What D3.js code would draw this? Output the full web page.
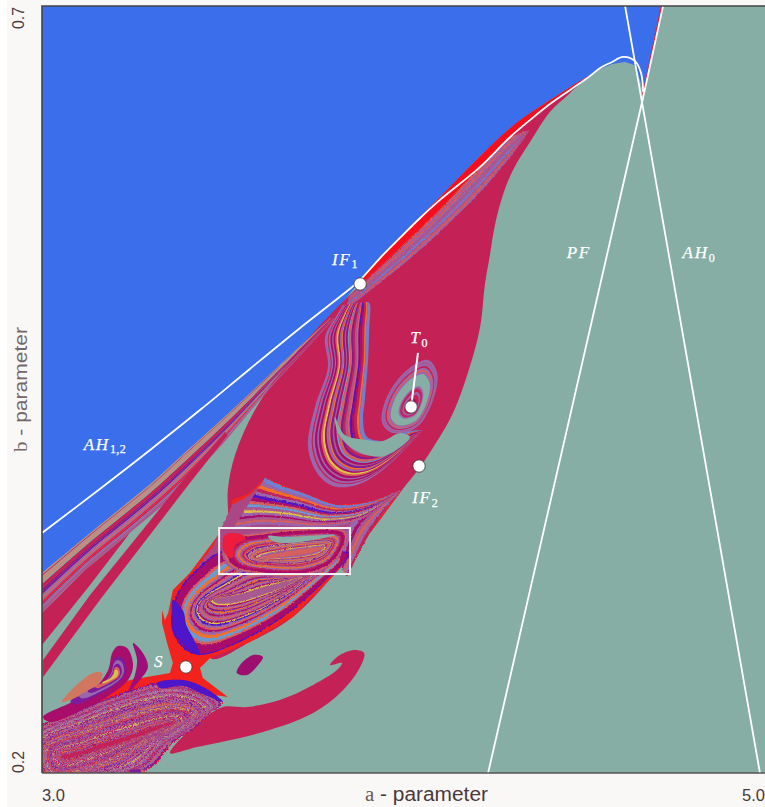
<!DOCTYPE html>
<html><head><meta charset="utf-8">
<style>html,body{margin:0;padding:0;background:#fff}svg{display:block}</style>
<script src="https://cdn.jsdelivr.net/npm/d3@7"></script></head><body>
<svg id="c" width="765" height="807"></svg>
<script>
// ---------- axis content
const aDomain=[3,5], bDomain=[0.2,0.7];
const aTicks=[[3,"3.0"],[5,"5.0"]];
const bTicks=[[0.7,"0.7"],[0.2,"0.2"]];
// ---------- bifurcation curves (a,b)
const curveAH12=[[3.000,.3565],[3.160,.3851],[3.299,.4106],[3.437,.4366],[3.575,.4634],[3.714,.4901],[3.844,.5142],[3.880,.5214],[3.935,.5357],[3.990,.5488],[4.046,.5618],[4.101,.5736],[4.212,.5951],[4.295,.6146],[4.350,.6257],[4.405,.6361],[4.461,.6453],[4.516,.6544],[4.544,.6596],[4.577,.6635],[4.607,.6668],[4.640,.6642],[4.657,.6564],[4.663,.6440]];
const curvePF=[[4.234,.2],[4.6625,.64],[4.718,.7]];
const curveAH0=[[4.613,.7],[4.986,.2]];
const wedgeRed=[[4.6625,.642],[4.714,.7]];
// ---------- region outlines (a,b)
const blueEdge=[[3.000,.3304],[3.313,.3910],[3.520,.4353],[3.797,.4966],[3.880,.5207],[3.990,.5494],[4.101,.5755],[4.212,.6022],[4.295,.6205],[4.350,.6303],[4.405,.6388],[4.461,.6472],[4.516,.6550],[4.544,.6589],[4.577,.6622],[4.613,.6635],[4.638,.6615],[4.654,.6518],[4.663,.6440]];
const blueTop=[[4.718,.7],[3,.7]];
const lobe=[[4.508,.6538],[4.461,.6433],[4.405,.6309],[4.350,.6113],[4.303,.5931],[4.275,.5768],[4.253,.5573],[4.239,.5377],[4.225,.5181],[4.212,.4908],[4.178,.4608],[4.137,.4347],[4.095,.4171],[4.046,.3995],[3.996,.3845],[3.907,.3565],[3.805,.3284],[3.694,.3017],[3.575,.2854],[3.465,.2750],[3.514,.3649],[3.514,.3845],[3.534,.4073],[3.589,.4366],[3.686,.4692],[3.783,.4953],[3.880,.5181],[3.990,.5423],[4.101,.5677],[4.212,.5951],[4.295,.6146],[4.350,.6257],[4.405,.6361],[4.461,.6453]];
const redEdgeTop=[[3.880,.5207],[3.990,.5494],[4.101,.5755],[4.212,.6022],[4.295,.6205],[4.350,.6303],[4.405,.6388],[4.461,.6472],[4.516,.6550]];
const redEdgeLow=[[3.880,.5181],[3.990,.5423],[4.101,.5677],[4.212,.5951],[4.295,.6146],[4.350,.6257],[4.405,.6361],[4.461,.6453],[4.516,.6544]];
const topU=[[3.852,.5110],[3.990,.5416],[4.101,.5670],[4.212,.5945],[4.295,.6140],[4.350,.6192]];
const topL=[[3.838,.5018],[3.990,.5298],[4.101,.5528],[4.212,.5787],[4.295,.6016],[4.350,.6192]];
const stripU=[[3.000,.3304],[3.133,.3565],[3.313,.3910],[3.382,.4060],[3.520,.4353],[3.658,.4659],[3.797,.4966]];
const stripL=[[3.000,.3043],[3.119,.3323],[3.243,.3565],[3.349,.3780],[3.492,.4125],[3.603,.4432],[3.811,.4966]];
const wedge=[[3,.3043],[3.119,.3323],[3.243,.3565],[3.133,.3226],[3,.2834]];
const band4=[[3.003,.2737],[3.133,.3160],[3.390,.3910],[3.506,.4223],[3.514,.4203],[3.409,.3890],[3.160,.3128],[3.003,.2626]];
const swirlO=[[3.833,.5051],[3.811,.4966],[3.783,.4842],[3.791,.4647],[3.755,.4386],[3.736,.4125],[3.761,.3956],[3.805,.3871],[3.871,.3878],[3.943,.3975],[4.054,.4236]];
const swirlI=[[3.902,.5071],[3.907,.5058],[3.905,.4888],[3.902,.4692],[3.893,.4432],[3.888,.4301],[3.899,.4190],[3.943,.4164],[3.976,.4184],[4.004,.4223],[4.054,.4236]];
const swirlTeal=[[3.810,.4321],[3.838,.4203],[3.899,.4171],[3.943,.4164],[3.990,.4216],[4.018,.4190],[3.949,.4067],[3.899,.4073],[3.852,.4125],[3.819,.4216]];
const ringT0=[[4.068,.4692],[4.093,.4608],[4.082,.4432],[4.037,.4255],[3.970,.4216],[3.941,.4281],[3.954,.4451],[4.010,.4627]];
const ringT0Centre=[4.024,.4386];
const fanRed=[[3.003,.2345],[3.124,.2495],[3.243,.2606],[3.354,.2652],[3.362,.2717],[3.346,.2847],[3.332,.2978],[3.332,.3063],[3.340,.2997],[3.349,.3043],[3.362,.3193],[3.373,.3219],[3.409,.3304],[3.473,.3506],[3.520,.3649],[3.526,.3780],[3.575,.3825],[3.617,.3923],[3.722,.3825],[3.816,.3747],[3.907,.3767],[3.996,.3845],[3.907,.3565],[3.805,.3284],[3.694,.3017],[3.575,.2854],[3.465,.2750],[3.437,.2684],[3.445,.2619],[3.514,.2495],[3.479,.2508],[3.423,.2574],[3.368,.2606],[3.243,.2508],[3.133,.2378]];
const fanBase=[[3.409,.3271],[3.473,.3480],[3.526,.3747],[3.575,.3812],[3.617,.3910],[3.722,.3819],[3.816,.3740],[3.907,.3760],[3.990,.3838],[3.902,.3565],[3.805,.3295],[3.714,.3128],[3.520,.3128]];
const fanRightA=[[3.996,.3845],[3.949,.3715],[3.907,.3565],[3.844,.3278]];
const fanRightB=[[3.990,.3845],[3.921,.3747],[3.852,.3617],[3.824,.3356]];
const leaf1=[[3.852,.3434],[3.777,.3239],[3.667,.3017],[3.528,.2834],[3.437,.2769],[3.390,.2815],[3.360,.2932],[3.360,.3063],[3.376,.3180],[3.420,.3310],[3.506,.3454],[3.686,.3389]];
const leaf1Core=[[3.714,.3271],[3.672,.3219],[3.617,.3173],[3.562,.3134],[3.515,.3115],[3.487,.3115],[3.476,.3128],[3.487,.3141],[3.515,.3147],[3.562,.3167],[3.617,.3206],[3.672,.3245]];
const leaf1Violet=[[3.362,.3128],[3.360,.3030],[3.365,.2925],[3.396,.2825],[3.437,.2769],[3.420,.2870],[3.400,.2960],[3.390,.3060]];
const leaf2=[[3.844,.3571],[3.714,.3597],[3.603,.3571],[3.520,.3532],[3.498,.3441],[3.515,.3349],[3.589,.3297],[3.714,.3278],[3.811,.3375]];
const leaf2Core=[[3.775,.3467],[3.727,.3454],[3.672,.3434],[3.631,.3415],[3.609,.3402],[3.631,.3402],[3.672,.3415],[3.727,.3434],[3.764,.3454]];
const leaf2Red=[[3.506,.3552],[3.548,.3558],[3.564,.3532],[3.534,.3480],[3.526,.3402],[3.503,.3441]];
const leaf2Teal=[[3.625,.3545],[3.675,.3538],[3.811,.3551],[3.714,.3506],[3.645,.3506]];
const fan3U=[[3.617,.3923],[3.672,.3864],[3.722,.3825],[3.816,.3747],[3.907,.3767],[3.996,.3845]];
const fan3D=[[3.526,.3584],[3.589,.3617],[3.658,.3617],[3.769,.3604],[3.880,.3649],[3.996,.3845]];
const lowFan=[[2.967,.2248],[3.113,.2424],[3.224,.2528],[3.318,.2593],[3.390,.2600],[3.456,.2541],[3.498,.2456],[3.465,.2391],[3.429,.2300],[3.362,.2196],[3.299,.2033],[2.967,.1889]];
const lowFanCore=[[3.050,.2104],[3.119,.2150],[3.188,.2202],[3.257,.2254],[3.313,.2300],[3.354,.2326],[3.360,.2319],[3.321,.2287],[3.263,.2235],[3.194,.2183],[3.124,.2137],[3.072,.2098]];
const lowFanArc=[[3.318,.2587],[3.390,.2606],[3.456,.2548],[3.501,.2463],[3.451,.2508],[3.390,.2567],[3.326,.2554]];
const tipViolet=[[3.243,.2020],[3.271,.2026],[3.274,.2],[3.243,.2]];
const tipSalmon=[[3.274,.2026],[3.290,.2007],[3.290,.2],[3.274,.2]];
const tail=[[3.354,.2130],[3.492,.2424],[3.567,.2430],[3.658,.2476],[3.750,.2574],[3.816,.2671],[3.830,.2717],[3.797,.2704],[3.824,.2769],[3.866,.2802],[3.891,.2782],[3.880,.2691],[3.833,.2541],[3.750,.2391],[3.611,.2267],[3.429,.2169]];
const blob=[[3.611,.2756],[3.584,.2769],[3.548,.2704],[3.539,.2652],[3.567,.2639],[3.598,.2704]];
const salmonLeaf=[[3.055,.2463],[3.105,.2593],[3.141,.2652],[3.166,.2652],[3.160,.2593],[3.124,.2522],[3.077,.2476]];
const purpleLeaf=[[3.003,.2365],[3.077,.2456],[3.141,.2541],[3.183,.2671],[3.194,.2782],[3.210,.2828],[3.235,.2815],[3.252,.2704],[3.238,.2606],[3.188,.2508],[3.133,.2437],[3.022,.2332]];
const purpleLeafCentre=[3.202,.2639];
const crescent=[[3.252,.2847],[3.279,.2782],[3.293,.2691],[3.271,.2606],[3.238,.2522],[3.257,.2639],[3.263,.2737]];
const focusBox=[[3.490,.3297],[3.852,.3597]];
// ---------- marked points and labels
const points=[[3.880,.5188],[4.021,.4386],[4.043,.4001],[3.398,.2691]];
const t0Leader=[[4.040,.4738],[4.021,.4386]];
const labels=[["IF","1",3.838,.5312],["AH","1,2",3.174,.4106],["T","0",4.043,.4803],["IF","2",4.06,.376],["PF","",4.485,.5357],["AH","0",4.817,.5357],["S","",3.324,.2691]];
// ---------- colours
const BG="#86aea4",BLUE="#3a6eea",CRIM="#c42157",RED="#f4211f";
const M="#a8106c",V="#4d12c8",P="#7a1a9c",L="#9a66ac",G="#a85a90",S="#d8605c",O="#f0702c",Y="#dcc048",B="#6a9ad0",W="#6f7fd0",A="#bd8f82",R="#ee1f3c",T="#86aea4",C="#c42157",D="#ab4784";
// ---------- band stops and colours
const topStops=[0,.1,.2,.3,.4,.5,.6,.7,.8,.9,1];
const topColors=[S,L,S,L,G,L,W,G,S,L];
const stripStops=[0,.05,.08,.25,.28,.4,.46,.54,.6,.66,.7,.76,.82,.88,1];
const stripColors=[A,C,A,T,C,M,P,L,S,L,R,C,L,G];
const swirlStops=[0,.07,.09,.13,.17,.2,.24,.27,.31,.34,.38,.41,.45,.48,.52,.55,.6,.64,.68,.72,.76,.8,.84,.89,.93,1];
const swirlColors=[L,C,L,M,L,M,S,Y,M,L,O,P,G,M,B,S,P,C,G,S,V,M,C,O,W];
const ringScales=[1,.95,.91,.87,.83,.79,.75,.7,.44,.39,.32,.26,.16];
const ringColors=[L,G,L,C,L,S,L,T,L,C,L,C,M];
const leaf1Stops=[0,.03,.2,.25,.32,.38,.43,.47,.51,.55,.58,.61,.64,.67,.7,.73,.76,.79,.82,.85,.88,.91,.94,.97];
const leaf1Colors=[V,M,S,B,O,L,M,S,L,V,Y,M,L,S,G,M,L,O,P,S,L,M,Y,G];
const leaf2Stops=[0,.06,.12,.26,.32,.38,.44,.5,.55,.6,.64,.68,.72,.76,.8,.84,.88,.92,.96];
const leaf2Colors=[G,S,M,C,L,O,G,C,S,P,A,G,O,L,C,Y,L,G,S];
const fan3Stops=[0,.08,.14,.2,.26,.32,.38,.44,.5,.56,.62,.68,.74,.8,.86,.92,1];
const fan3Colors=[W,L,O,C,L,V,M,S,B,G,Y,L,M,G,S,L];
const fanRightStops=[0,.15,.3,.45,.6,.75,1];
const fanRightColors=[C,L,S,G,M,L];
const lowStops=[0,.015,.03,.05,.07,.085,.1,.12,.135,.15,.17,.19,.205,.22,.24,.255,.27,.29,.31,.325,.34,.36,.375,.39,.41,.43,.445,.46,.48,.495,.51,.53,.55,.565,.58,.6,.615,.63,.65,.67,.685,.7,.72,.735,.75,.77,.79,.805,.82,.84,.855,.87,.89,.91,.925,.94,.96,.98];
const lowColors=[R,M,P,G,L,S,G,M,L,C,L,G,A,L,M,S,L,G,Y,L,M,G,L,S,P,L,G,C,L,O,G,L,M,Y,G,L,C,S,M,L,G,P,S,L,C,G,Y,L,M,S,L,G,C,L,O,M,L,C];
const purpleScales=[1,.62,.5,.38,.28,.18];
const purpleColors=[M,P,L,P,S,Y];

// ---------- drawing
const x=d3.scaleLinear(aDomain,[42,765]), y=d3.scaleLinear(bDomain,[773,6]);
const px=d=>[x(d[0]),y(d[1])];
const smooth=d3.line().curve(d3.curveCatmullRom.alpha(.5));
const straight=d3.line();
const closed=d3.line().curve(d3.curveCatmullRomClosed.alpha(.5));
const svg=d3.select("#c");
svg.append("rect").attr("width",765).attr("height",807).attr("fill","#faf7f7");
svg.append("rect").attr("width",7).attr("height",807).attr("fill","#fff");
const defs=svg.append("defs");
defs.append("clipPath").attr("id","plot").append("rect").attr("x",x(3)).attr("y",y(.7)).attr("width",x(5)-x(3)).attr("height",y(.2)-y(.7));
defs.append("filter").attr("id","soft").append("feGaussianBlur").attr("stdDeviation",.4);
function grain(id,freq,amt){
  const fl=defs.append("filter").attr("id",id);
  fl.append("feTurbulence").attr("type","fractalNoise").attr("baseFrequency",freq).attr("numOctaves",2).attr("seed",3).attr("result","n");
  fl.append("feDisplacementMap").attr("in","SourceGraphic").attr("in2","n").attr("scale",amt).attr("xChannelSelector","R").attr("yChannelSelector","G").attr("result","d");
  fl.append("feGaussianBlur").attr("in","d").attr("stdDeviation",.4);
}
grain("grainS",.45,2.6);
grain("grainL",.55,5);
const g=svg.append("g").attr("clip-path","url(#plot)");
g.append("rect").attr("x",x(3)).attr("y",y(.7)).attr("width",x(5)-x(3)).attr("height",y(.2)-y(.7)).attr("fill",BG);
const f=g.append("g").attr("filter","url(#soft)");
const layer=id=>g.append("g").attr("filter",`url(#${id})`);
const fill=(pts,c,gen=straight,t=f)=>t.append("path").attr("d",gen(pts.map(px))+"Z").attr("fill",c);
function ribbon(t,u,v,c){t.append("path").attr("d",smooth(u)+"L"+smooth(v.slice().reverse()).slice(1)+"Z").attr("fill",c);}
function bands(t,A,Bb,stops,colors){
  const a=A.map(px),b=Bb.map(px);
  const at=s=>a.map((p,i)=>[p[0]+(b[i][0]-p[0])*s,p[1]+(b[i][1]-p[1])*s]);
  colors.forEach((c,i)=>ribbon(t,at(stops[i]),at(stops[i+1]),c));
}
function nestedTo(t,outline,core,stops,colors){
  const a=outline.map(px),b=core.map(px);
  colors.forEach((c,i)=>t.append("path").attr("d",closed(a.map((p,j)=>[p[0]+(b[j][0]-p[0])*stops[i],p[1]+(b[j][1]-p[1])*stops[i]]))+"Z").attr("fill",c));
}
function nested(t,outline,centre,scales,colors){
  const c=px(centre),o=outline.map(px);
  scales.forEach((s,i)=>t.append("path").attr("d",closed(o.map(p=>[c[0]+(p[0]-c[0])*s,c[1]+(p[1]-c[1])*s]))+"Z").attr("fill",colors[i]));
}
fill(blueEdge.concat(blueTop),BLUE);
fill(lobe,CRIM,smooth);
ribbon(f,redEdgeTop.map(px),redEdgeLow.map(px),"#f8101a");
bands(layer("grainS"),topU,topL,topStops,topColors);
bands(layer("soft"),stripU,stripL,stripStops,stripColors);
const wedges=layer("soft");
fill(wedge,CRIM,straight,wedges);
fill(band4,CRIM,straight,wedges);
const sw=layer("soft");
bands(sw,swirlO,swirlI,swirlStops,swirlColors);
fill(swirlTeal,T,closed,sw);
nested(layer("soft"),ringT0,ringT0Centre,ringScales,ringColors);
const under=layer("soft");
fill(tail,CRIM,closed,under);
fill(fanRed,RED,straight,under);
const fanLayer=layer("grainS");
fill(fanBase,D,straight,fanLayer);
bands(fanLayer,fanRightA,fanRightB,fanRightStops,fanRightColors);
bands(fanLayer,fan3U,fan3D,fan3Stops,fan3Colors);
nestedTo(layer("grainS"),leaf1,leaf1Core,leaf1Stops,leaf1Colors);
fill(leaf1Violet,V,closed,layer("soft"));
nestedTo(layer("grainS"),leaf2,leaf2Core,leaf2Stops,leaf2Colors);
const patchLayer=layer("soft");
fill(leaf2Red,R,closed,patchLayer);
fill(leaf2Teal,T,closed,patchLayer);
nestedTo(layer("grainL"),lowFan,lowFanCore,lowStops,lowColors);
const over=layer("soft");
fill(lowFanArc,V,closed,over);
fill(tipViolet,P,straight,over);
fill(tipSalmon,S,straight,over);
fill(blob,"#9e0f70",closed,over);
fill(salmonLeaf,"#d2775f",closed,over);
nested(over,purpleLeaf,purpleLeafCentre,purpleScales,purpleColors);
fill(crescent,"#9e0f78",closed,over);
// bifurcation curves
const stroke=(pts,c,w,gen=straight)=>g.append("path").attr("d",gen(pts.map(px))).attr("fill","none").attr("stroke",c).attr("stroke-width",w);
stroke(wedgeRed,"#ee2030",1.6);
stroke(curveAH12,"#fff",1.8,smooth);
stroke(curvePF,"#fff",1.8);
stroke(curveAH0,"#fff",1.8);
g.append("rect").attr("x",x(focusBox[0][0])).attr("y",y(focusBox[1][1])).attr("width",x(focusBox[1][0])-x(focusBox[0][0])).attr("height",y(focusBox[0][1])-y(focusBox[1][1])).attr("fill","none").attr("stroke","#f4f4f4").attr("stroke-width",2);
stroke(t0Leader,"#fff",2);
svg.selectAll("circle.pt").data(points).join("circle").attr("class","pt").attr("cx",d=>x(d[0])).attr("cy",d=>y(d[1])).attr("r",6.2).attr("fill","#fff").attr("stroke","#333").attr("stroke-width",.8);
// frame
svg.append("path").attr("d",`M${x(3)},${y(.2)}V${y(.7)}H765`).attr("fill","none").attr("stroke","#444").attr("stroke-width",1.6);
svg.append("path").attr("d",`M${x(3)},${y(.2)}H765`).attr("fill","none").attr("stroke","#555").attr("stroke-width",1.6);
// math labels
labels.forEach(([m,sub,a,b])=>{
  const t=svg.append("text").attr("x",x(a)).attr("y",y(b)).attr("fill","#fff").attr("stroke","#fff").attr("stroke-width",.25).attr("font-family","'Liberation Serif','DejaVu Serif',serif").attr("font-style","italic").attr("font-size",17).attr("letter-spacing",1.8).attr("text-anchor","middle").text(m);
  if(sub) t.append("tspan").attr("dy",3.5).attr("font-size",12).attr("font-style","normal").attr("letter-spacing",.4).text(sub);
});
// tick labels
const tickFont="'Liberation Sans',Arial,sans-serif", ink="#4a3a3a";
svg.selectAll("text.xt").data(aTicks).join("text").attr("class","xt").attr("x",d=>d[0]==3?x(3):742).attr("y",801).attr("font-family",tickFont).attr("font-size",17).attr("fill",ink).attr("textLength",23).attr("lengthAdjust","spacingAndGlyphs").text(d=>d[1]);
svg.selectAll("text.yt").data(bTicks).join("text").attr("class","yt").attr("transform",d=>`translate(24,${d[0]==.7?29:773}) rotate(-90)`).attr("font-family",tickFont).attr("font-size",16).attr("fill",ink).attr("textLength",22).attr("lengthAdjust","spacingAndGlyphs").text(d=>d[1]);
const ax=svg.append("text").attr("x",365).attr("y",801).attr("font-family",tickFont).attr("font-size",20).attr("fill",ink).attr("textLength",123).attr("lengthAdjust","spacingAndGlyphs");
ax.append("tspan").attr("font-family","'Liberation Serif',serif").attr("fill","#6a5a5a").text("a");
ax.append("tspan").text(" - parameter");
const by=svg.append("text").attr("transform","translate(27,452) rotate(-90)").attr("font-family",tickFont).attr("font-size",19).attr("fill","#75686a").attr("textLength",125).attr("lengthAdjust","spacingAndGlyphs");
by.append("tspan").attr("font-family","'Liberation Serif',serif").text("b");
by.append("tspan").text(" - parameter");
</script></body></html>
